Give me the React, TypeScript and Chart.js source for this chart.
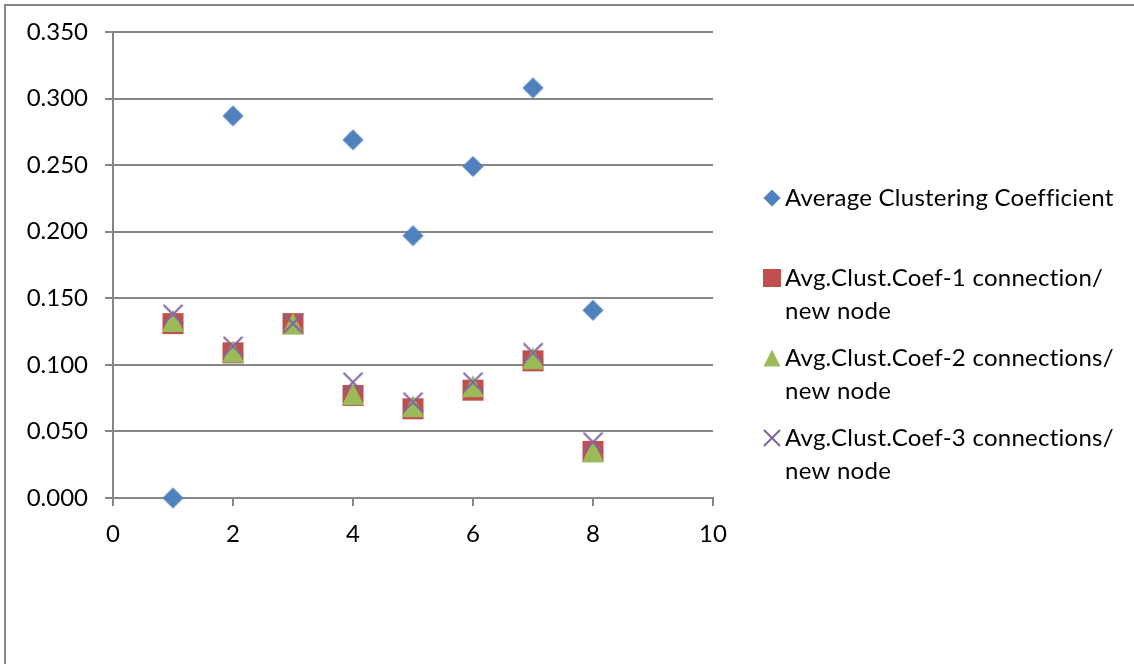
import React, { useEffect, useRef } from "react";
import { Chart, registerables } from "chart.js";

Chart.register(...registerables);

const xValues = [1, 2, 3, 4, 5, 6, 7, 8];
const avgCoef = [0.0, 0.287, null, 0.269, 0.197, 0.249, 0.308, 0.141];
const coef1 = [0.131, 0.109, 0.131, 0.077, 0.067, 0.081, 0.103, 0.035];
const coef2 = [0.133, 0.11, 0.131, 0.078, 0.069, 0.084, 0.105, 0.035];
const coef3 = [0.138, 0.114, 0.131, 0.087, 0.072, 0.087, 0.109, 0.042];
const seriesNames = [
  ["Average Clustering Coefficient"],
  ["Avg.Clust.Coef-1 connection/", "new node"],
  ["Avg.Clust.Coef-2 connections/", "new node"],
  ["Avg.Clust.Coef-3 connections/", "new node"],
];

const BLUE = "#4F81BD";
const RED = "#C0504D";
const GREEN = "#9BBB59";
const PURPLE = "#8064A2";
const AXIS = "#868686";
const FONT = "Lato";

function drawMarker(ctx: CanvasRenderingContext2D, kind: string, cx: number, cy: number, s: number) {
  ctx.save();
  const h = s / 2;
  if (kind === "diamond") {
    ctx.fillStyle = BLUE;
    ctx.beginPath();
    ctx.moveTo(cx, cy - h);
    ctx.lineTo(cx + h, cy);
    ctx.lineTo(cx, cy + h);
    ctx.lineTo(cx - h, cy);
    ctx.closePath();
    ctx.fill();
  } else if (kind === "square") {
    ctx.fillStyle = RED;
    ctx.fillRect(cx - h, cy - h, s, s);
  } else if (kind === "triangle") {
    ctx.fillStyle = GREEN;
    ctx.beginPath();
    ctx.moveTo(cx, cy - h);
    ctx.lineTo(cx + h, cy + h);
    ctx.lineTo(cx - h, cy + h);
    ctx.closePath();
    ctx.fill();
  } else {
    ctx.strokeStyle = PURPLE;
    ctx.lineWidth = 2;
    ctx.beginPath();
    ctx.moveTo(cx - h, cy - h);
    ctx.lineTo(cx + h, cy + h);
    ctx.moveTo(cx + h, cy - h);
    ctx.lineTo(cx - h, cy + h);
    ctx.stroke();
  }
  ctx.restore();
}

function markerImage(kind: string, s: number): HTMLCanvasElement {
  const c = document.createElement("canvas");
  c.width = s + 2;
  c.height = s + 2;
  const ctx = c.getContext("2d")!;
  drawMarker(ctx, kind, c.width / 2, c.height / 2, s);
  return c;
}

const legendPlugin = {
  id: "customLegend",
  afterDraw(chart: any) {
    const ctx = chart.ctx as CanvasRenderingContext2D;
    const kinds = ["diamond", "square", "triangle", "cross"];
    const sizes = [17, 18, 17, 16];
    const firstLineY = [198, 278, 358, 438];
    ctx.save();
    ctx.font = `24px ${FONT}`;
    (ctx as any).letterSpacing = "0.25px";
    ctx.fillStyle = "#000";
    ctx.textBaseline = "middle";
    ctx.textAlign = "left";
    seriesNames.forEach((lines, i) => {
      drawMarker(ctx, kinds[i], 772, firstLineY[i], sizes[i]);
      lines.forEach((t, j) => ctx.fillText(t, 785, firstLineY[i] + j * 33));
    });
    ctx.restore();
  },
};

export default function App() {
  const ref = useRef<HTMLCanvasElement>(null);
  useEffect(() => {
    const mk = (vals: (number | null)[]) =>
      xValues.map((x, i) => ({ x, y: vals[i] })).filter((p) => p.y !== null);
    const chart = new Chart(ref.current!, {
      type: "scatter",
      data: {
        datasets: [
          { label: seriesNames[0].join(" "), data: mk(avgCoef), pointStyle: markerImage("diamond", 21), order: 3, clip: false },
          { label: seriesNames[1].join(" "), data: mk(coef1), pointStyle: markerImage("square", 21), order: 2 },
          { label: seriesNames[2].join(" "), data: mk(coef2), pointStyle: markerImage("triangle", 22), order: 1 },
          { label: seriesNames[3].join(" "), data: mk(coef3), pointStyle: markerImage("cross", 19), order: 0 },
        ] as any,
      },
      options: {
        animation: false,
        responsive: false,
        devicePixelRatio: 1,
        layout: { padding: { left: 0, top: 32, right: 421, bottom: 0 } },
        plugins: { legend: { display: false }, tooltip: { enabled: false } },
        scales: {
          x: {
            type: "linear",
            min: 0,
            max: 10,
            ticks: { stepSize: 2, color: "#000", font: { family: FONT, size: 24 }, padding: 14 },
            grid: { drawOnChartArea: false, drawTicks: true, tickLength: 8, color: AXIS, lineWidth: 2 },
            border: { color: AXIS, width: 2 },
            afterFit: (s: any) => {
              s.height = 166;
            },
          },
          y: {
            type: "linear",
            min: 0,
            max: 0.35,
            ticks: {
              stepSize: 0.05,
              color: "#000",
              font: { family: FONT, size: 24 },
              padding: 17,
              callback: (v: any) => Number(v).toFixed(3),
            },
            grid: { color: AXIS, lineWidth: 2, tickLength: 8 },
            border: { color: AXIS, width: 2 },
            afterFit: (s: any) => {
              s.width = 113;
            },
          },
        },
      },
      plugins: [legendPlugin],
    });
    return () => chart.destroy();
  }, []);
  return (
    <div style={{ position: "absolute", left: 0, top: 0, width: 1134, height: 664, overflow: "hidden", background: "#fff" }}>
      <canvas ref={ref} width={1134} height={664} style={{ position: "absolute", left: 0, top: 0 }} />
      <div
        style={{
          position: "absolute",
          left: 4,
          top: 4,
          width: 1200,
          height: 700,
          borderLeft: `2px solid ${AXIS}`,
          borderTop: `2px solid ${AXIS}`,
          pointerEvents: "none",
        }}
      />
    </div>
  );
}
